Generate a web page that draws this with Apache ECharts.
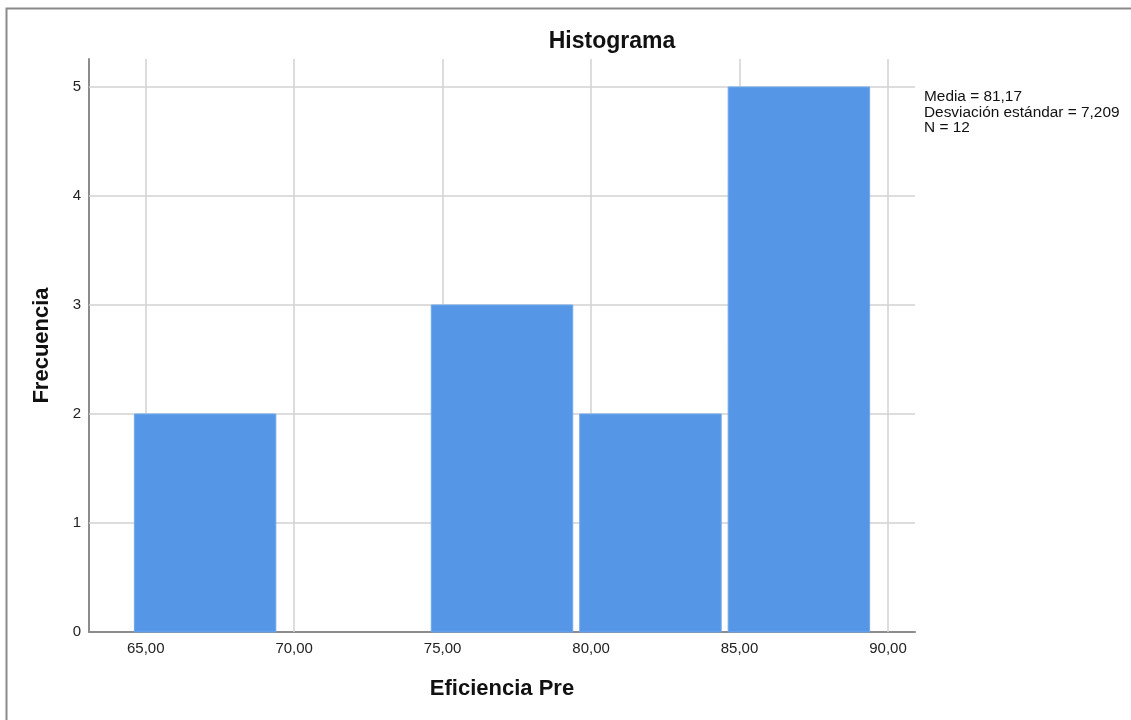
<!DOCTYPE html>
<html>
<head>
<meta charset="utf-8">
<script src="https://cdn.jsdelivr.net/npm/echarts@6/dist/echarts.min.js"></script>
<style>html,body{margin:0;padding:0;background:#fff}#c{width:1131px;height:720px}</style>
</head>
<body>
<div id="c"></div>
<script>
// Data
var binStarts = [64.5, 69.5, 74.5, 79.5, 84.5];
var binEnds = [69.5, 74.5, 79.5, 84.5, 89.5];
var counts = [2, 0, 3, 2, 5];
var xTicks = [65, 70, 75, 80, 85, 90];
var yTicks = [0, 1, 2, 3, 4, 5];
var statsLines = ['Media = 81,17', 'Desviación estándar = 7,209', 'N = 12'];
var titleText = 'Histograma';
var xName = 'Eficiencia Pre';
var yName = 'Frecuencia';

var FONT = '"Liberation Sans", Arial, sans-serif';
var chart = echarts.init(document.getElementById('c'), null, {renderer: 'canvas'});

var barData = binStarts.map(function (s, i) { return [s, binEnds[i], counts[i]]; });
var gridColor = '#d2d2d2';

var option = {
  animation: false,
  backgroundColor: '#ffffff',
  title: {
    text: titleText, left: 607, top: 25, textAlign: 'center',
    textStyle: {fontFamily: FONT, fontSize: 23, fontWeight: 'bold', color: '#111'}
  },
  grid: {left: 89, right: 216, top: 59, bottom: 88, containLabel: false},
  xAxis: {
    type: 'value', min: 63.09, max: 90.91,
    name: xName, nameLocation: 'middle', nameGap: 46,
    nameTextStyle: {fontFamily: FONT, fontSize: 22, fontWeight: 'bold', color: '#111'},
    axisLine: {show: true, lineStyle: {color: '#8c8c8c', width: 2}},
    axisTick: {show: false},
    splitLine: {show: false},
    axisLabel: {
      customValues: xTicks, margin: 9,
      fontFamily: FONT, fontSize: 15, color: '#222',
      formatter: function (v) { return v.toFixed(2).replace('.', ','); }
    }
  },
  yAxis: {
    type: 'value', min: 0, max: 5.257,
    name: yName, nameLocation: 'middle', nameGap: 36, nameRotate: 90,
    nameTextStyle: {fontFamily: FONT, fontSize: 22, fontWeight: 'bold', color: '#111'},
    axisLine: {show: true, lineStyle: {color: '#8c8c8c', width: 2}},
    axisTick: {show: false},
    splitLine: {show: false},
    axisLabel: {
      customValues: yTicks, margin: 8,
      fontFamily: FONT, fontSize: 15, color: '#222',
      formatter: function (v) { return String(v); }
    }
  },
  series: [
    {
      type: 'custom',
      data: barData,
      z: 1,
      silent: true,
      renderItem: function () { return {type: 'group', children: []}; },
      markLine: {
        silent: true, symbol: 'none', label: {show: false},
        lineStyle: {color: gridColor, width: 1.5, type: 'solid'},
        z: 1,
        data: xTicks.map(function (t) { return {xAxis: t}; })
          .concat(yTicks.filter(function (t) { return t > 0; }).map(function (t) { return {yAxis: t}; }))
      }
    },
    {
      type: 'custom',
      data: barData,
      z: 3,
      encode: {x: [0, 1], y: 2},
      renderItem: function (params, api) {
        var p0 = api.coord([api.value(0), api.value(2)]);
        var p1 = api.coord([api.value(1), 0]);
        if (api.value(2) <= 0) return null;
        var inset = 3.5;
        return {
          type: 'rect',
          shape: {x: p0[0] + inset, y: p0[1], width: p1[0] - p0[0] - 2 * inset, height: p1[1] - p0[1]},
          style: {fill: '#5596e6', stroke: '#6ea7ec', lineWidth: 1}
        };
      }
    }
  ],
  graphic: [
    {type: 'rect', left: 4, top: 6, shape: {x: 0, y: 0, width: 1200, height: 800},
     style: {fill: 'none', stroke: '#8a8a8a', lineWidth: 2}, silent: true, z: -1},
    {type: 'text', left: 924, top: 89, silent: true,
     style: {text: statsLines.join('\n'), font: '15.4px ' + FONT, fill: '#111', lineHeight: 15.5}}
  ]
};
chart.setOption(option);
</script>
</body>
</html>
